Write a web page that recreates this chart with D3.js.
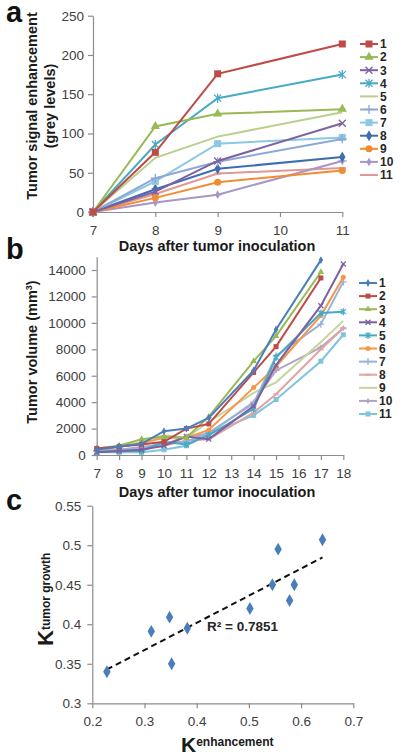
<!DOCTYPE html>
<html><head><meta charset="utf-8">
<script src="https://cdn.jsdelivr.net/npm/d3@7"></script>
<style>
html,body{margin:0;padding:0;background:#fff;}
svg{display:block;font-family:"Liberation Sans",Arial,sans-serif;}
</style></head>
<body>
<svg id="chart" width="404" height="755"></svg>
<script>
// ---------- DATA ----------
const seriesLabels = ["1","2","3","4","5","6","7","8","9","10","11"];

// Panel a: tumor signal enhancement (grey levels)
const daysA = [7, 8, 9, 11];
const enhA1  = [0, 76, 176, 214];
const enhA2  = [0, 109, 125, 131];
const enhA3  = [0, 26, 65, 113];
const enhA4  = [0, 86, 145, 175];
const enhA5  = [0, 69, 96, 127];
const enhA6  = [0, 43, 64, 93];
const enhA7  = [0, 39, 87, 95];
const enhA8  = [0, 29, 55, 70];
const enhA9  = [0, 18, 38, 53];
const enhA10 = [0, 12, 22, 65];
const enhA11 = [0, 23, 49, 56];
const ticksAx = [7, 8, 9, 10, 11];
const ticksAy = [0, 50, 100, 150, 200, 250];

// Panel b: tumor volume (mm3)
const daysB = [7, 8, 9, 10, 11, 12, 14, 15, 17, 18];
const volB1  = [400, 650, 850, 1800, 2000, 2800, 6400, 9500, 14750, null];
const volB2  = [500, 650, 800, 1000, 2000, 2350, 6250, 8200, 13400, null];
const volB3  = [500, 700, 1200, 1400, 1300, 2900, 7100, 9000, 13850, null];
const volB4  = [200, 300, 400, 700, 1400, 1200, 3700, 6800, 11300, 14450];
const volB5  = [200, 300, 300, 1000, 800, 1500, 3500, 7400, 10750, 10850];
const volB6  = [400, 600, 900, 1300, 1300, 1900, 5100, 6700, 10550, 13450];
const volB7  = [300, 400, 500, 900, 1000, 1700, 3900, 7500, 9900, 13100];
const volB8  = [300, 400, 500, 700, 1100, 1200, 3200, 4600, 8000, 9600];
const volB9  = [400, 600, 1000, 1500, 1300, 2500, 4700, 5500, 8550, 10150];
const volB10 = [300, 400, 600, 800, 1400, 1600, 4000, 6400, 8150, 9600];
const volB11 = [200, 200, 200, 400, 700, 1600, 3000, 4200, 7100, 9100];
const ticksBx = [7, 8, 9, 10, 11, 12, 13, 14, 15, 16, 17, 18];
const ticksBy = [0, 2000, 4000, 6000, 8000, 10000, 12000, 14000];

// Panel c: K enhancement vs K tumor growth
const kEnhancement = [0.228, 0.313, 0.348, 0.352, 0.382, 0.502, 0.545, 0.556, 0.578, 0.587, 0.641];
const kTumorGrowth = [0.340, 0.391, 0.409, 0.350, 0.395, 0.420, 0.450, 0.495, 0.430, 0.450, 0.507];
const ticksCx = [0.2, 0.3, 0.4, 0.5, 0.6, 0.7];
const ticksCy = [0.3, 0.35, 0.4, 0.45, 0.5, 0.55];
const r2Label = "R² = 0.7851";

// ---------- STYLES ----------
const stylesA = [
  {c:"#BE4B48", m:"square"}, {c:"#98B954", m:"triangle"}, {c:"#7D60A0", m:"x"},
  {c:"#46AAC5", m:"asterisk"}, {c:"#B9D08C", m:"none"}, {c:"#8EA8D6", m:"plus"},
  {c:"#8CC8DF", m:"square"}, {c:"#3D6DB3", m:"diamond"}, {c:"#F38B32", m:"circle"},
  {c:"#A996C6", m:"star"}, {c:"#E09896", m:"dash"}
];
const stylesB = [
  {c:"#4A7EBB", m:"diamond"}, {c:"#BE4B48", m:"square"}, {c:"#98B954", m:"triangle"},
  {c:"#7D60A0", m:"x"}, {c:"#46AAC5", m:"asterisk"}, {c:"#F79646", m:"circle"},
  {c:"#95B3D7", m:"plus"}, {c:"#E2A3A1", m:"dash"}, {c:"#C3D69B", m:"none"},
  {c:"#B3A2C7", m:"star"}, {c:"#7FC4DC", m:"square"}
];

const svg = d3.select("#chart");
const AX = "#8c8c8c", TXT = "#404040", FONT = 13.5;

function marker(g, type, x, y, color, s) {
  const h = s / 2;
  if (type === "square") g.append("rect").attr("x", x-h).attr("y", y-h).attr("width", s).attr("height", s).attr("fill", color);
  else if (type === "triangle") g.append("path").attr("d", d3.symbol(d3.symbolTriangle, s*s*0.75)()).attr("transform", `translate(${x},${y})`).attr("fill", color);
  else if (type === "diamond") g.append("path").attr("d", d3.symbol(d3.symbolDiamond, s*s*0.7)()).attr("transform", `translate(${x},${y})`).attr("fill", color);
  else if (type === "circle") g.append("circle").attr("cx", x).attr("cy", y).attr("r", h).attr("fill", color);
  else if (type === "x" || type === "asterisk" || type === "plus") {
    let d = "";
    if (type !== "plus") d += `M${x-h},${y-h}L${x+h},${y+h}M${x-h},${y+h}L${x+h},${y-h}`;
    if (type === "asterisk") d += `M${x},${y-h-1}L${x},${y+h+1}`;
    if (type === "plus") d += `M${x-h-1},${y}L${x+h+1},${y}M${x},${y-h-1}L${x},${y+h+1}`;
    g.append("path").attr("d", d).attr("stroke", color).attr("stroke-width", 1.3).attr("fill", "none");
  } else if (type === "star") {
    g.append("path").attr("d", d3.symbol(d3.symbolDiamond, s*s*0.45)()).attr("transform", `translate(${x},${y})`).attr("fill", color);
    g.append("path").attr("d", `M${x-h-1},${y}L${x+h+1},${y}`).attr("stroke", color).attr("stroke-width", 1.2);
  } else if (type === "dash") {
    g.append("path").attr("d", `M${x-h},${y}L${x+h},${y}`).attr("stroke", color).attr("stroke-width", 2);
  }
}

function styleAxis(g) {
  g.selectAll(".domain").attr("stroke", AX).attr("stroke-width", 1.2);
  g.selectAll(".tick line").attr("stroke", AX).attr("stroke-width", 1.2);
  g.selectAll(".tick text").attr("fill", TXT).attr("font-size", FONT).attr("font-family", "Liberation Sans, Arial, sans-serif");
}

function linePanel(cfg) {
  const x = d3.scaleLinear().domain(cfg.xDomain).range(cfg.xRange);
  const y = d3.scaleLinear().domain(cfg.yDomain).range(cfg.yRange);
  const gx = svg.append("g").attr("transform", `translate(0,${cfg.yRange[0]})`)
    .call(d3.axisBottom(x).tickValues(cfg.xTicks).tickFormat(d3.format("d")).tickSize(5).tickSizeOuter(0).tickPadding(cfg.xPad));
  styleAxis(gx);
  const gy = svg.append("g").attr("transform", `translate(${cfg.xRange[0]},0)`)
    .call(d3.axisLeft(y).tickValues(cfg.yTicks).tickFormat(d3.format("d")).tickSize(5).tickSizeOuter(0).tickPadding(cfg.yPad));
  styleAxis(gy);
  const line = d3.line().defined(d => d[1] !== null).x(d => x(d[0])).y(d => y(d[1]));
  const draw = cfg.series.map((vals, i) => ({vals, i})).reverse();
  draw.forEach(({vals, i}) => {
    const st = cfg.styles[i];
    const pts = cfg.days.map((dd, k) => [dd, vals[k]]);
    const g = svg.append("g");
    g.append("path").datum(pts).attr("d", line).attr("fill", "none").attr("stroke", st.c).attr("stroke-width", 2);
    pts.filter(p => p[1] !== null).forEach(p => marker(g, st.m, x(p[0]), y(p[1]), st.c, cfg.ms));
  });
  // legend
  const lg = svg.append("g");
  seriesLabels.forEach((lab, i) => {
    const st = cfg.styles[i];
    const yy = cfg.legY + i * cfg.legStep;
    lg.append("line").attr("x1", cfg.legX).attr("x2", cfg.legX + 18).attr("y1", yy).attr("y2", yy).attr("stroke", st.c).attr("stroke-width", 2);
    marker(lg, st.m, cfg.legX + 9, yy, st.c, cfg.ms);
    lg.append("text").attr("x", cfg.legX + 20).attr("y", yy + 4.3).attr("font-size", 12).attr("font-weight", "bold").attr("fill", "#262626").text(lab);
  });
}

linePanel({
  xDomain: [7, 11], xRange: [93, 342.3], yDomain: [0, 250], yRange: [212, 15.7],
  xTicks: ticksAx, yTicks: ticksAy, xPad: 8, yPad: 4, days: daysA, ms: 7,
  series: [enhA1, enhA2, enhA3, enhA4, enhA5, enhA6, enhA7, enhA8, enhA9, enhA10, enhA11],
  styles: stylesA, legX: 360, legY: 44, legStep: 13.1
});
linePanel({
  xDomain: [7, 18], xRange: [96.7, 343.3], yDomain: [0, 15000], yRange: [455, 256.8],
  xTicks: ticksBx, yTicks: ticksBy, xPad: 8, yPad: 6, days: daysB, ms: 5,
  series: [volB1, volB2, volB3, volB4, volB5, volB6, volB7, volB8, volB9, volB10, volB11],
  styles: stylesB, legX: 359, legY: 283, legStep: 13.1
});

// Panel c scatter
{
  const x = d3.scaleLinear().domain([0.2, 0.7]).range([92.3, 353.3]);
  const y = d3.scaleLinear().domain([0.3, 0.55]).range([703.3, 505.7]);
  const gx = svg.append("g").attr("transform", `translate(0,703.3)`)
    .call(d3.axisBottom(x).tickValues(ticksCx).tickFormat(d3.format("")).tickSize(5).tickSizeOuter(0).tickPadding(8));
  styleAxis(gx);
  const gy = svg.append("g").attr("transform", `translate(92.3,0)`)
    .call(d3.axisLeft(y).tickValues(ticksCy).tickFormat(d3.format("")).tickSize(5).tickSizeOuter(0).tickPadding(6));
  styleAxis(gy);
  // regression trendline
  const mx = d3.mean(kEnhancement), my = d3.mean(kTumorGrowth);
  const sxy = d3.sum(kEnhancement.map((v, i) => (v - mx) * (kTumorGrowth[i] - my)));
  const sxx = d3.sum(kEnhancement.map(v => (v - mx) * (v - mx)));
  const b = sxy / sxx, a = my - b * mx;
  const [x0, x1] = d3.extent(kEnhancement);
  svg.append("line").attr("x1", x(x0)).attr("y1", y(a + b * x0)).attr("x2", x(x1)).attr("y2", y(a + b * x1))
    .attr("stroke", "#111").attr("stroke-width", 2).attr("stroke-dasharray", "6,4");
  kEnhancement.forEach((v, i) => {
    svg.append("path").attr("d", d3.symbol(d3.symbolDiamond, 48)()).attr("transform", `translate(${x(v)},${y(kTumorGrowth[i])})`).attr("fill", "#4A7EBB");
  });
  svg.append("text").attr("x", 207).attr("y", 631).attr("font-size", 13.5).attr("font-weight", "bold").attr("fill", "#262626").text(r2Label);
}

// Titles
function xTitle(txt, cy) {
  svg.append("text").attr("x", 217).attr("y", cy).attr("text-anchor", "middle").attr("font-size", 14.5).attr("font-weight", "bold").attr("fill", "#1a1a1a").text(txt);
}
xTitle("Days after tumor inoculation", 251);
xTitle("Days after tumor inoculation", 497);

function yTitle(txt, x, cy) {
  svg.append("text").attr("transform", `translate(${x},${cy}) rotate(-90)`).attr("text-anchor", "middle").attr("font-size", 14.5).attr("font-weight", "bold").attr("fill", "#1a1a1a").text(txt);
}
yTitle("Tumor signal enhancement", 37, 106);
yTitle("(grey levels)", 55, 106);
{
  const t = svg.append("text").attr("transform", `translate(37,352) rotate(-90)`).attr("text-anchor", "middle").attr("font-size", 14.5).attr("font-weight", "bold").attr("fill", "#1a1a1a");
  t.append("tspan").text("Tumor volume (mm");
  t.append("tspan").attr("font-size", 9).attr("dy", -5).text("3");
  t.append("tspan").attr("dy", 5).text(")");
}
// panel c axis titles
{
  const t = svg.append("text").attr("x", 181).attr("y", 752).attr("font-weight", "bold").attr("fill", "#1a1a1a");
  t.append("tspan").attr("font-size", 21).text("K");
  t.append("tspan").attr("font-size", 12).attr("dy", -6).text("enhancement");
  const t2 = svg.append("text").attr("transform", `translate(53,646) rotate(-90)`).attr("font-weight", "bold").attr("fill", "#1a1a1a");
  t2.append("tspan").attr("font-size", 22).text("K");
  t2.append("tspan").attr("font-size", 12).attr("dy", -3).text("tumor growth");
}
// panel letters
[["a", 6, 22], ["b", 6, 259], ["c", 6, 510]].forEach(([l, x, y]) => {
  svg.append("text").attr("x", x).attr("y", y).attr("font-size", 29).attr("font-weight", "bold").attr("fill", "#111").text(l);
});
</script>
</body></html>
